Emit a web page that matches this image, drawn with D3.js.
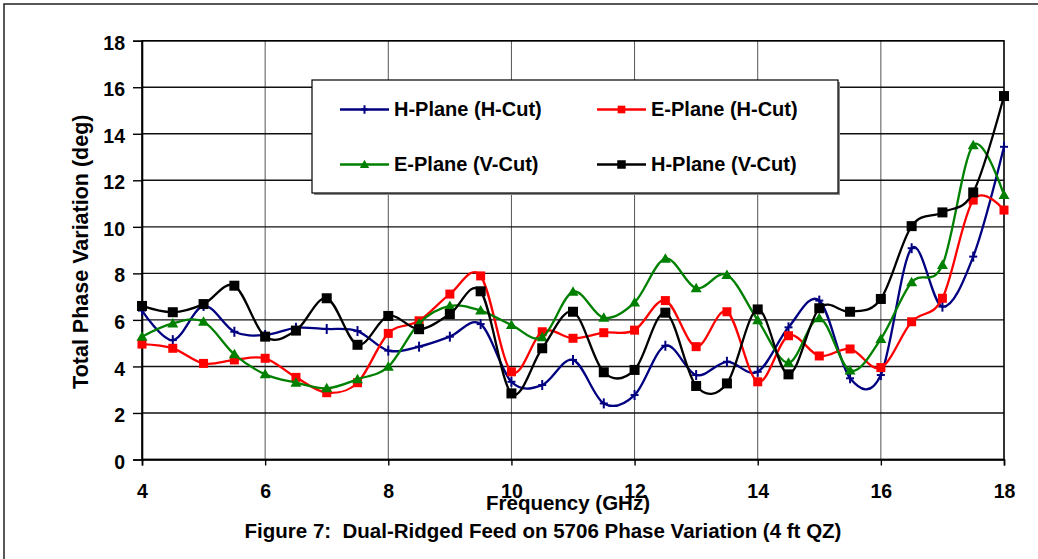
<!DOCTYPE html>
<html lang="en">
<head>
  <meta charset="UTF-8">
  <title>phase variation</title>
  <script src="https://cdn.jsdelivr.net/npm/d3@7/dist/d3.min.js"></script>
  <style>
    body { margin: 0; background: #fff; }
    text { font-family: "Liberation Sans", Arial, sans-serif; font-weight: bold; fill: #000; }
  </style>
</head>
<body>
  <svg width="1038" height="559" id="mainsvg"></svg>
  <script>
    const freq = [4, 4.5, 5, 5.5, 6, 6.5, 7, 7.5, 8, 8.5, 9, 9.5, 10, 10.5, 11,
      11.5, 12, 12.5, 13, 13.5, 14, 14.5, 15, 15.5, 16, 16.5, 17, 17.5, 18]
    const hPlaneHCut = [6.4, 5.13, 6.6, 5.49, 5.35, 5.66, 5.61, 5.52, 4.68, 4.85,
      5.28, 5.82, 3.34, 3.2, 4.28, 2.41, 2.77, 4.89, 3.63,
      4.2, 3.77, 5.68, 6.83, 3.49, 3.63, 9.08, 6.57, 8.72, 13.44]
    const ePlaneHCut = [4.96, 4.78, 4.13, 4.28, 4.35, 3.53, 2.87, 3.3, 5.42, 5.96,
      7.11, 7.89, 3.77, 5.49, 5.21, 5.45, 5.56, 6.83, 4.85,
      6.35, 3.34, 5.32, 4.45, 4.75, 3.95, 5.92, 6.93, 11.15, 10.72]
    const ePlaneVCut = [5.28, 5.85, 5.92, 4.52, 3.66, 3.3, 3.06, 3.45, 3.99, 5.85,
      6.6, 6.4, 5.78, 5.25, 7.21, 6.09, 6.75, 8.63, 7.36,
      7.93, 5.99, 4.16, 6.07, 3.82, 5.18, 7.62, 8.36, 13.51, 11.37]
    const hPlaneVCut = [6.6, 6.33, 6.68, 7.47, 5.28, 5.54, 6.93, 4.93, 6.17, 5.6,
      6.25, 7.23, 2.84, 4.78, 6.35, 3.75, 3.85, 6.31, 3.16,
      3.27, 6.45, 3.66, 6.5, 6.35, 6.9, 10.03, 10.62, 11.48, 15.62]
    const xTicks = [4, 6, 8, 10, 12, 14, 16, 18]
    const yTicks = [0, 2, 4, 6, 8, 10, 12, 14, 16, 18]
    const seriesNames = ['H-Plane (H-Cut)', 'E-Plane (H-Cut)', 'E-Plane (V-Cut)', 'H-Plane (V-Cut)']

    const series = [
      {name: seriesNames[0], values: hPlaneHCut, color: '#000080', marker: 'plus'},
      {name: seriesNames[1], values: ePlaneHCut, color: '#ff0000', marker: 'square', size: 9},
      {name: seriesNames[2], values: ePlaneVCut, color: '#008000', marker: 'triangle'},
      {name: seriesNames[3], values: hPlaneVCut, color: '#000000', marker: 'square', size: 10}
    ]

    const svg = d3.select('#mainsvg')
    const margin = {top: 40.7, right: 34, bottom: 99.5, left: 142}
    const width = +svg.attr('width')
    const height = +svg.attr('height')
    const innerWidth = width - margin.left - margin.right
    const innerHeight = height - margin.top - margin.bottom

    // outer frame, only the top and left edges show
    svg.append('rect').attr('x', 4).attr('y', 4).attr('width', 1200).attr('height', 800)
      .attr('fill', 'none').attr('stroke', '#222').attr('stroke-width', 1.5)

    const xScale = d3.scaleLinear().domain([4, 18]).range([0, innerWidth])
    const yScale = d3.scaleLinear().domain([0, 18]).range([innerHeight, 0])

    const g = svg.append('g').attr('transform', `translate(${margin.left},${margin.top})`)

    // gridlines
    g.append('g').selectAll('line').data(xTicks).join('line')
      .attr('x1', d => xScale(d)).attr('x2', d => xScale(d))
      .attr('y1', 0).attr('y2', innerHeight)
      .attr('stroke', '#555').attr('stroke-width', 1)
    g.append('g').selectAll('line').data(yTicks).join('line')
      .attr('x1', 0).attr('x2', innerWidth)
      .attr('y1', d => yScale(d)).attr('y2', d => yScale(d))
      .attr('stroke', '#111').attr('stroke-width', 1.4)
    g.append('rect').attr('width', innerWidth).attr('height', innerHeight)
      .attr('fill', 'none').attr('stroke', '#000').attr('stroke-width', 1.4)

    // axes
    const xAxis = d3.axisBottom(xScale).tickValues(xTicks).tickSize(6).tickPadding(21)
    const xg = g.append('g').attr('transform', `translate(0,${innerHeight})`).call(xAxis)
    const yAxis = d3.axisLeft(yScale).tickValues(yTicks).tickSize(9).tickPadding(8)
    const yg = g.append('g').call(yAxis)
    ;[xg, yg].forEach(a => {
      a.select('.domain').attr('stroke', '#000').attr('stroke-width', 1.6)
      a.selectAll('.tick line').attr('stroke', '#000').attr('stroke-width', 1.4)
      a.selectAll('.tick text').attr('font-size', '19.5px').attr('font-family', '"Liberation Sans", Arial, sans-serif')
        .attr('font-weight', 'bold').attr('fill', '#000')
    })
    xg.selectAll('.tick text').attr('dy', null).attr('y', 498 - margin.top - innerHeight)
    yg.selectAll('.tick text').attr('dy', '0.44em')

    // series
    const line = d3.line()
      .x((d, i) => xScale(freq[i]))
      .y(d => yScale(d))
      .curve(d3.curveCatmullRom.alpha(0))

    function drawMarker(sel, s, cx, cy, scale) {
      const k = scale || 1
      if (s.marker === 'plus') {
        sel.append('line').attr('x1', cx).attr('x2', cx).attr('y1', cy - 5 * k).attr('y2', cy + 5 * k)
          .attr('stroke', s.color).attr('stroke-width', 2)
        sel.append('line').attr('x1', cx - 4 * k).attr('x2', cx + 4 * k).attr('y1', cy).attr('y2', cy)
          .attr('stroke', s.color).attr('stroke-width', 2)
      } else if (s.marker === 'square') {
        const h = s.size * k / 2
        sel.append('rect').attr('x', cx - h).attr('y', cy - h).attr('width', 2 * h).attr('height', 2 * h)
          .attr('fill', s.color)
      } else {
        const w = 5.5 * k, t = 5.5 * k, b = 4 * k
        sel.append('path').attr('d', `M${cx},${cy - t}L${cx + w},${cy + b}L${cx - w},${cy + b}Z`)
          .attr('fill', s.color)
      }
    }

    series.forEach(s => {
      const sg = g.append('g')
      sg.append('path').attr('d', line(s.values))
        .attr('fill', 'none').attr('stroke', s.color).attr('stroke-width', 2.3)
      s.values.forEach((v, i) => drawMarker(sg, s, xScale(freq[i]), yScale(v)))
    })

    // legend
    const legend = svg.append('g')
    legend.append('rect').attr('x', 314).attr('y', 82).attr('width', 526).attr('height', 113)
      .attr('fill', '#888')
    legend.append('rect').attr('x', 312).attr('y', 80).attr('width', 526).attr('height', 113)
      .attr('fill', '#fff').attr('stroke', '#000').attr('stroke-width', 1.2)
    const legendPos = [{x: 340, y: 109.5}, {x: 597, y: 109.5}, {x: 340, y: 164.5}, {x: 597, y: 164.5}]
    series.forEach((s, i) => {
      const p = legendPos[i]
      legend.append('line').attr('x1', p.x).attr('x2', p.x + 49).attr('y1', p.y).attr('y2', p.y)
        .attr('stroke', s.color).attr('stroke-width', 2.3)
      drawMarker(legend, s, p.x + 24.5, p.y, 0.85)
      legend.append('text').attr('x', p.x + 54).attr('y', p.y + 6.8)
        .attr('font-size', '20px').text(s.name)
    })

    // titles
    svg.append('text').attr('text-anchor', 'middle')
      .attr('transform', 'translate(88,251.7) rotate(-90)')
      .attr('font-size', '21.5px').text('Total Phase Variation (deg)')
    svg.append('text').attr('text-anchor', 'middle').attr('x', 568).attr('y', 509.5)
      .attr('font-size', '20.5px').text('Frequency (GHz)')
    svg.append('text').attr('text-anchor', 'middle').attr('x', 543).attr('y', 537.7)
      .attr('font-size', '20.5px').attr('xml:space', 'preserve')
      .text('Figure 7:  Dual-Ridged Feed on 5706 Phase Variation (4 ft QZ)')
  </script>
</body>
</html>
